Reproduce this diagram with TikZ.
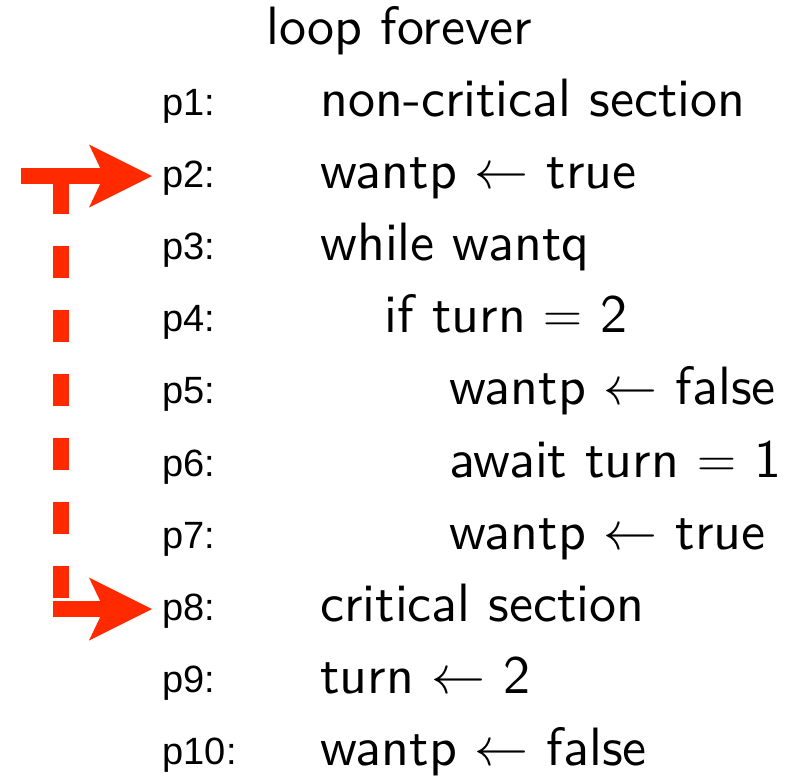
\RequirePackage{fix-cm}
\documentclass[tikz,border=0pt]{standalone}
\usepackage{fontspec}
\newfontfamily\labelfont{Liberation Sans}
\newfontfamily\codefont{lmsans10-regular.otf}
\usetikzlibrary{arrows.meta}
\definecolor{flowred}{RGB}{255,42,0}
\tikzset{
  codeline/.style={anchor=base west, inner sep=0pt,
    font=\codefont\fontsize{54}{60}\selectfont},
  lbl/.style={anchor=base west, inner ysep=0pt, inner xsep=10.5pt,
    font=\labelfont\fontsize{38}{44}\selectfont},
  jump/.style={draw=flowred, line width=16pt,
    -{Stealth[length=63pt,width=63pt,inset=15pt,line width=0pt]}},
  flowdash/.style={draw=flowred, line width=16pt,
    dash pattern=on 31.7pt off 32.3pt}
}
\begin{document}
\begin{tikzpicture}[x=1pt,y=-1pt]
  \useasboundingbox (0,0) rectangle (799,776);
  % program text
  \node[codeline] (head) at (266,45) {loop forever};
  \foreach \n/\y/\ind/\txt in {
      1/116/0/{non-critical section},
      2/188/0/{wantp $\leftarrow$ true},
      3/260/0/{while wantq},
      4/332/1/{if turn $=$ 2},
      5/404/2/{wantp $\leftarrow$ false},
      6/477/2/{await turn $=$ 1},
      7/549/2/{wantp $\leftarrow$ true},
      8/621/0/{critical section},
      9/693/0/{turn $\leftarrow$ 2},
      10/765/0/{wantp $\leftarrow$ false}} {
    \node[lbl] (p\n) at (152,\y-1) {p\n:};
    \node[codeline] (s\n) at (320+64.5*\ind,\y) {\txt};
  }
  % control-flow arrows
  \coordinate (tailA) at (21,176);
  \coordinate (tailB) at (53,609);
  \coordinate (dropTop) at (61,182);
  \coordinate (dropEnd) at (61,609);
  \draw[flowdash] (dropTop) -- (dropEnd);
  \draw[jump] (tailA) -- (tailA -| p2.west);
  \draw[jump] (tailB) -- (tailB -| p8.west);
\end{tikzpicture}
\end{document}
